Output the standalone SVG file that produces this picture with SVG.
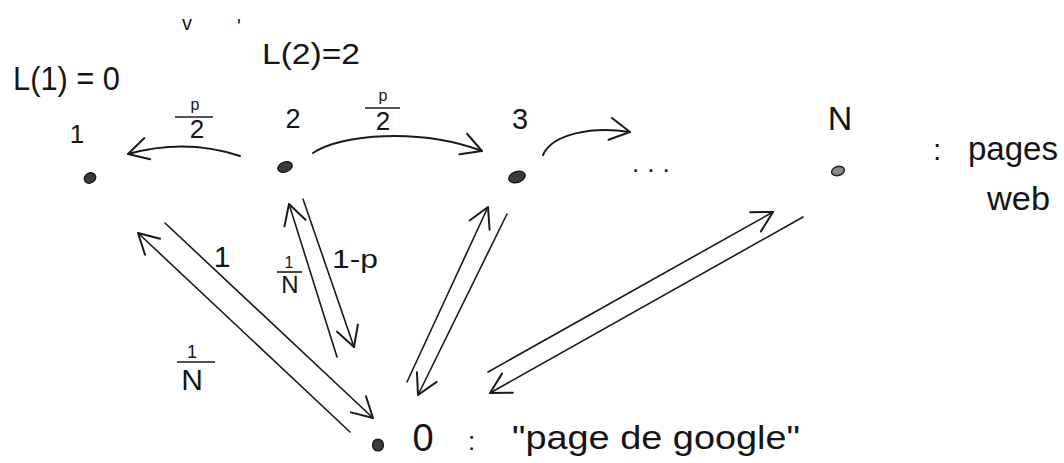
<svg xmlns="http://www.w3.org/2000/svg" width="1064" height="463" viewBox="0 0 1064 463">
<style>
text{font-family:"Liberation Sans","DejaVu Sans",sans-serif;fill:#151515}
.m{text-anchor:middle}
.ln{fill:none;stroke:#1a1a1a;stroke-width:1.6;stroke-linecap:round;marker-end:url(#ah)}
.arc{fill:none;stroke:#1a1a1a;stroke-width:2;stroke-linecap:round;marker-end:url(#ah)}
.bar{stroke:#1a1a1a;stroke-width:1.6}
.dot{fill:#3a3a3a;stroke:#111;stroke-width:1.2}
</style>
<defs>
<marker id="ah" markerUnits="userSpaceOnUse" markerWidth="40" markerHeight="40" viewBox="-30 -20 40 40" refX="0" refY="0" orient="auto">
<path d="M-20,-11 L0,0 L-20,11" fill="none" stroke="#1a1a1a" stroke-width="2" stroke-linecap="round" stroke-linejoin="round"/>
</marker>
</defs>
<rect width="1064" height="463" fill="#fff"/>
<g id="marks">
<text x="187" y="30" class="m" font-size="20">v</text>
<text x="239" y="33" class="m" font-size="20">'</text>
</g>
<g id="connectors">
<path class="arc" d="M240 156 Q186 138 128 154"/>
<path class="arc" d="M313 153 C340 134 420 128 482 151"/>
<path class="arc" d="M543 155 C552 134 592 126 630 132"/>
<line class="ln" x1="350" y1="432" x2="138" y2="233"/>
<line class="ln" x1="165" y1="223" x2="373" y2="418"/>
<line class="ln" x1="337" y1="357" x2="289" y2="204"/>
<line class="ln" x1="303" y1="199" x2="354" y2="347"/>
<line class="ln" x1="407" y1="382" x2="488" y2="207"/>
<line class="ln" x1="507" y1="214" x2="418" y2="395"/>
<line class="ln" x1="488" y1="372" x2="773" y2="212"/>
<line class="ln" x1="803" y1="217" x2="490" y2="393"/>
<g id="edge-labels">
<text x="195" y="110" class="m" font-size="16">p</text>
<line class="bar" x1="175" y1="117" x2="213" y2="117"/>
<text x="197" y="138" class="m" font-size="26">2</text>
<text x="383" y="101" class="m" font-size="16">p</text>
<line class="bar" x1="365" y1="108" x2="400" y2="108"/>
<text x="383" y="130" class="m" font-size="26">2</text>
<text x="222" y="267" class="m" font-size="30">1</text>
<text x="192" y="358" class="m" font-size="18">1</text>
<line class="bar" x1="177" y1="362" x2="215" y2="362"/>
<text x="192" y="390" class="m" font-size="30">N</text>
<text x="289" y="268" class="m" font-size="16">1</text>
<line class="bar" x1="277" y1="272" x2="302" y2="272"/>
<text x="290" y="293" class="m" font-size="24">N</text>
<text x="332" y="268" font-size="26" textLength="46" lengthAdjust="spacingAndGlyphs">1-p</text>
</g>
</g>
<g id="node-1">
<ellipse class="dot" cx="90" cy="178" rx="6" ry="5" transform="rotate(-30 90 178)"/>
<text x="77" y="143" class="m" font-size="26">1</text>
<text x="13" y="90" font-size="34" textLength="107" lengthAdjust="spacingAndGlyphs">L(1) = 0</text>
</g>
<g id="node-2">
<ellipse class="dot" cx="285" cy="167" rx="7.5" ry="5" transform="rotate(-20 285 167)"/>
<text x="293" y="128" class="m" font-size="27">2</text>
<text x="262" y="64" font-size="30" textLength="98" lengthAdjust="spacingAndGlyphs">L(2)=2</text>
</g>
<g id="node-3">
<ellipse class="dot" cx="517" cy="177" rx="8.5" ry="5.5" transform="rotate(-20 517 177)"/>
<text x="520" y="129" class="m" font-size="29">3</text>
</g>
<g id="dots">
<text x="632" y="172" font-size="26" letter-spacing="8">...</text>
</g>
<g id="node-N">
<ellipse cx="838" cy="171" rx="6.5" ry="4.5" fill="#8a8a8a" stroke="#222" stroke-width="1.5" transform="rotate(-15 838 171)"/>
<text x="840" y="130" class="m" font-size="34">N</text>
</g>
<g id="legend">
<text x="933" y="160" font-size="30">:</text>
<text x="968" y="160" font-size="34" textLength="90" lengthAdjust="spacingAndGlyphs">pages</text>
<text x="987" y="210" font-size="34" textLength="63" lengthAdjust="spacingAndGlyphs">web</text>
</g>
<g id="node-0">
<ellipse class="dot" cx="378" cy="445" rx="5.5" ry="6"/>
<text x="423" y="451" class="m" font-size="38">0</text>
<text x="468" y="450" font-size="26">:</text>
<text x="512" y="449" font-size="34" textLength="288" lengthAdjust="spacingAndGlyphs">"page de google"</text>
</g>
</svg>
